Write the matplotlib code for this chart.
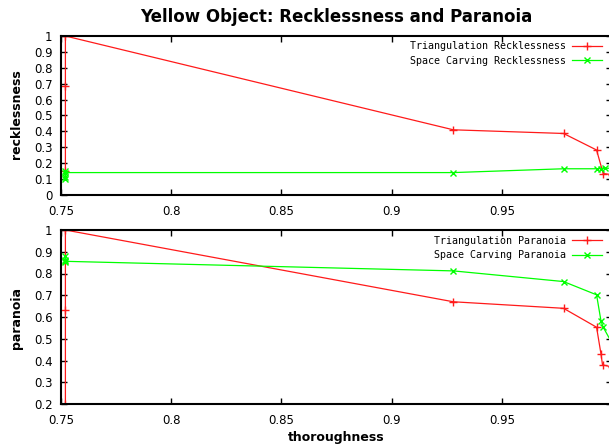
import matplotlib
matplotlib.use("Agg")
import matplotlib.pyplot as plt
import numpy as np

# thoroughness values (x) and recklessness / paranoia (y)
thr_tri_reck = [0.752, 0.752, 0.752, 0.928, 0.978, 0.993, 0.996, 1.0]
tri_reck = [0.15, 0.685, 1.0, 0.41, 0.387, 0.283, 0.135, 0.128]

thr_sc_reck = [0.752, 0.752, 0.752, 0.752, 0.928, 0.978, 0.993, 0.995, 0.997, 1.0]
sc_reck = [0.10, 0.113, 0.15, 0.141, 0.141, 0.165, 0.165, 0.166, 0.167, 0.17]

thr_tri_para = [0.752, 0.752, 0.752, 0.928, 0.978, 0.993, 0.995, 0.9957, 1.0]
tri_para = [0.2, 0.63, 1.0, 0.67, 0.64, 0.553, 0.43, 0.38, 0.37]

thr_sc_para = [0.752, 0.752, 0.752, 0.752, 0.928, 0.978, 0.993, 0.995, 0.996, 1.0]
sc_para = [0.88, 0.862, 0.854, 0.856, 0.812, 0.763, 0.702, 0.582, 0.553, 0.48]

x_ticks = [0.75, 0.8, 0.85, 0.9, 0.95]

RED = '#ff1a1a'
GREEN = '#00ff00'

fig = plt.figure(figsize=(6.09, 4.45), dpi=100)
W, H = 609.0, 445.0

# axes placed in pixel terms (right border falls just outside the image)
ax1 = fig.add_axes([61 / W, (H - 195) / H, 551 / W, 159 / H])
ax2 = fig.add_axes([61 / W, (H - 404) / H, 551 / W, 174 / H])


def style_axes(ax, yticks, ylim):
    ax.set_xlim(0.75, 1.0)
    ax.set_ylim(*ylim)
    ax.set_xticks(x_ticks)
    ax.set_xticklabels([f'{t:g}' for t in x_ticks])
    ax.set_yticks(yticks)
    ax.set_yticklabels([f'{t:g}' for t in yticks])
    ax.tick_params(direction='in', length=4, width=1, top=True, right=True,
                   labelsize=8.5, pad=7, colors='black')
    ax.tick_params(axis='y', pad=6)
    for s in ax.spines.values():
        s.set_linewidth(1.5)


style_axes(ax1, np.round(np.arange(0, 1.01, 0.1), 1), (0, 1))
style_axes(ax2, np.round(np.arange(0.2, 1.01, 0.1), 1), (0.2, 1))

ax1.plot(thr_tri_reck, tri_reck, color=RED, lw=0.9, marker='+', ms=6,
         mew=1, label='Triangulation Recklessness')
ax1.plot(thr_sc_reck, sc_reck, color=GREEN, lw=0.9, marker='x', ms=4,
         mew=1, label='Space Carving Recklessness')

ax2.plot(thr_tri_para, tri_para, color=RED, lw=0.9, marker='+', ms=6,
         mew=1, label='Triangulation Paranoia')
ax2.plot(thr_sc_para, sc_para, color=GREEN, lw=0.9, marker='x', ms=4,
         mew=1, label='Space Carving Paranoia')

for ax in (ax1, ax2):
    ax.legend(loc='upper right', bbox_to_anchor=(0.988, 0.985), frameon=False,
              markerfirst=False, handlelength=3.0, handletextpad=0.6,
              labelspacing=0.45, borderaxespad=0, borderpad=0.3,
              prop={'family': 'DejaVu Sans Mono', 'size': 7.2})

ax1.set_title('Yellow Object: Recklessness and Paranoia', fontsize=12,
              fontweight='bold', pad=10)
fig.text(17 / W, (H - 114) / H, 'recklessness', rotation=90, ha='center',
         va='center', fontsize=9, fontweight='bold')
fig.text(17 / W, (H - 318) / H, 'paranoia', rotation=90, ha='center',
         va='center', fontsize=9, fontweight='bold')
fig.text(336 / W, (H - 438) / H, 'thoroughness', ha='center', va='center',
         fontsize=9, fontweight='bold')

fig.savefig('out.png', dpi=100)
